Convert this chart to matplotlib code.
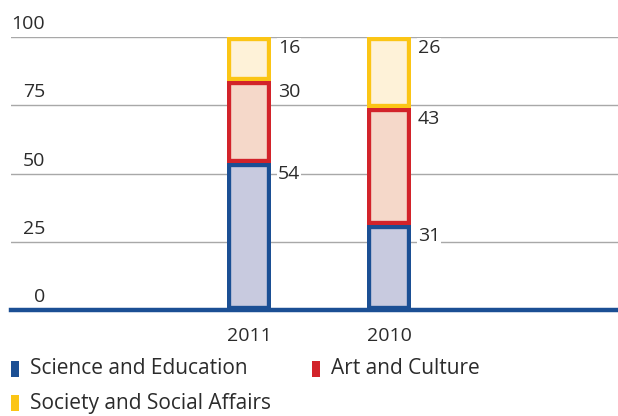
import matplotlib
matplotlib.use("Agg")
import matplotlib.pyplot as plt
from matplotlib.patches import Rectangle
import numpy as np

years = ["2011", "2010"]
science = [54, 31]
art = [30, 43]
society = [16, 26]
series_names = ["Science and Education", "Art and Culture", "Society and Social Affairs"]
edge_colors = ["#1b4f94", "#d2232a", "#fbc515"]
fill_colors = ["#c8cadf", "#f5d8c9", "#fef2d8"]
y_ticks = [0, 25, 50, 75, 100]

plt.rcParams["font.family"] = ["Open Sans", "DejaVu Sans"]
text_color = "#2b2b2b"
fs = 14

W, H = 618, 416
fig = plt.figure(figsize=(W / 100, H / 100), dpi=100)
ax_left, ax_right, ax_bottom, ax_top = 11, 618, 310, 37
ax = fig.add_axes([ax_left / W, (H - ax_bottom) / H,
                   (ax_right - ax_left) / W, (ax_bottom - ax_top) / H])

x = np.arange(len(years))
bar_w = 0.31
px_per_unit = 140.0
ax.set_xlim(-(249 - ax_left) / px_per_unit, 1 + (ax_right - 389) / px_per_unit)
ax.set_ylim(0, 100)

for yv in y_ticks[1:]:
    ax.axhline(yv, color="#a8a8a8", lw=1.0, zorder=1)

bottom = np.zeros(len(years))
for vals, ec, fc in zip([science, art, society], edge_colors, fill_colors):
    vals = np.array(vals, dtype=float)
    bars = ax.bar(x, vals, bottom=bottom, width=bar_w, color=fc, edgecolor=ec,
                  linewidth=6.0, zorder=3)
    # keep only the inner half of each outline so every segment has its own frame
    for p in bars:
        p.set_clip_path(p)
    top = bottom + vals
    for xi, v, t in zip(x, vals, top):
        ax.annotate(f"{int(v)}", xy=(xi + bar_w / 2, t), xytext=(7, -11),
                    textcoords="offset pixels", ha="left", va="center",
                    fontsize=fs, color=text_color, zorder=4,
                    bbox=dict(facecolor="white", edgecolor="none", pad=0.5))
    bottom = top

ax.axhline(0, color="#1b4f94", lw=3.2, zorder=5, clip_on=False)

ytrans = ax.get_yaxis_transform()
for yv in y_ticks:
    ax.annotate(str(yv), xy=(34 / (ax_right - ax_left), yv), xycoords=ytrans,
                xytext=(0, 4), textcoords="offset pixels",
                ha="right", va="bottom", fontsize=fs, color=text_color)

ax.set_xticks(x)
ax.set_xticklabels(years, fontsize=fs, color=text_color)
ax.tick_params(axis="x", length=0, pad=12)
ax.set_yticks([])
for s in ax.spines.values():
    s.set_visible(False)

# legend
legend_pos = [(11, 369), (312, 369), (11, 403)]
for (lx, ly), name, ec in zip(legend_pos, series_names, edge_colors):
    fig.patches.append(Rectangle((lx / W, (H - ly - 8) / H), 8 / W, 16 / H,
                                 transform=fig.transFigure, facecolor=ec,
                                 edgecolor="none"))
    fig.text((lx + 19) / W, (H - ly) / H, name, ha="left", va="center",
             fontsize=15, color=text_color)

fig.savefig("out.png", dpi=100)
